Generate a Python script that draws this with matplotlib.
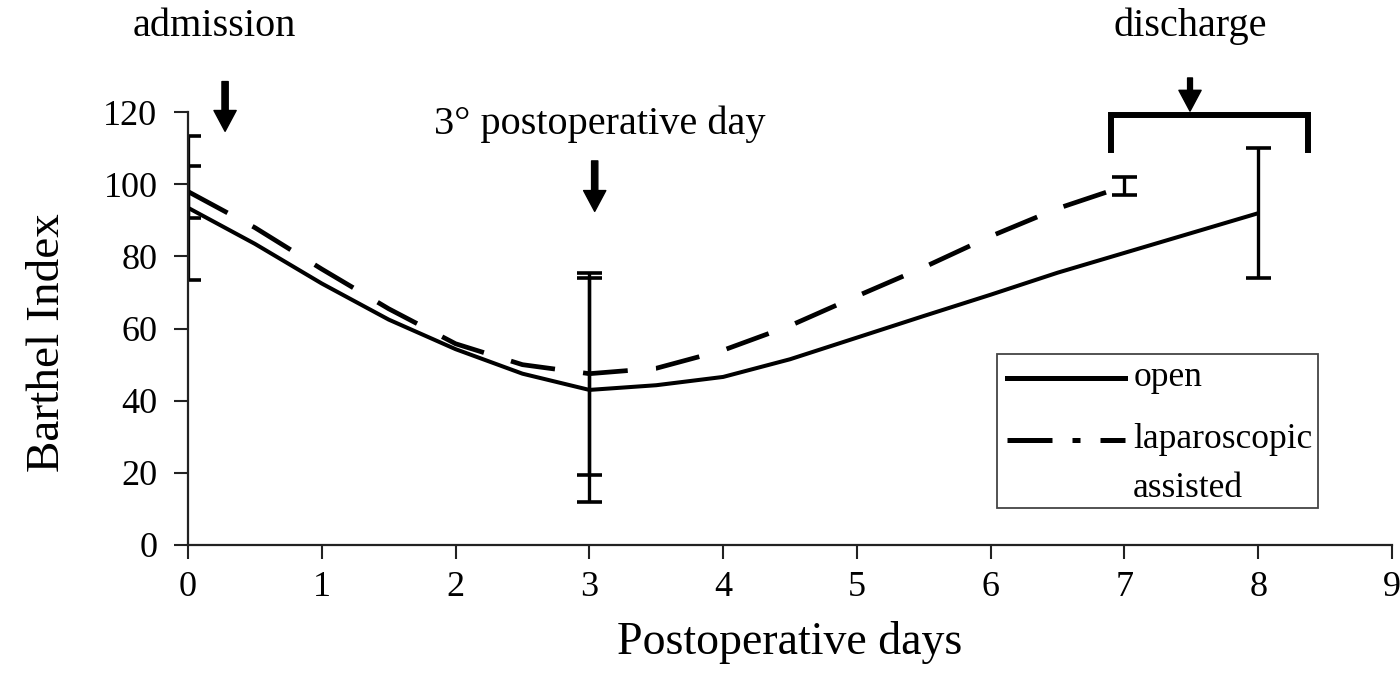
import matplotlib
matplotlib.use("Agg")
import matplotlib.pyplot as plt
from matplotlib.lines import Line2D
from matplotlib.patches import Rectangle

plt.rcParams['font.family'] = ['Liberation Serif', 'DejaVu Serif']

# Mean Barthel Index
days = [0, 0.5, 1, 1.5, 2, 2.5, 3, 3.5, 4, 4.5, 5, 5.5, 6, 6.5, 7, 7.5, 8]
open_mean = [93.5, 83.5, 72.5, 62.5, 54.3, 47.5, 43, 44.3, 46.6, 51.5, 57.5, 63.5, 69.4, 75.5, 81, 86.5, 92]

lap_days = [0, 0.5, 1, 1.5, 2, 2.5, 3, 3.5, 4, 4.5, 5, 5.5, 6, 6.5, 7]
lap_mean = [98, 88, 76.5, 65.5, 55.8, 50.0, 47.5, 49, 54, 60.8, 69, 77, 85.6, 93.3, 99.5]

# Error bars (mean +/- SD) at the measurement days
open_err_days = [0, 3, 8]
open_err_mean = [93.5, 43, 92]
open_err_sd = [20, 31, 18]

lap_err_days = [0, 3, 7]
lap_err_mean = [98, 47.5, 99.5]
lap_err_sd = [7.2, 28, 2.5]

x_ticks = [0, 1, 2, 3, 4, 5, 6, 7, 8, 9]
y_ticks = [0, 20, 40, 60, 80, 100, 120]

fig = plt.figure(figsize=(14, 6.76), dpi=100)
ax = fig.add_axes([0.1343, 0.1938, 0.8600, 0.6402])

ax.plot(days, open_mean, color='black', lw=2.9, solid_capstyle='butt',
        solid_joinstyle='round')
ax.plot(lap_days, lap_mean, color='black', lw=3.4, dashes=(9.5, 6.0))

ax.errorbar(open_err_days, open_err_mean, yerr=open_err_sd, fmt='none',
            ecolor='black', elinewidth=2.4, capsize=9, capthick=2.6)
ax.errorbar(lap_err_days, lap_err_mean, yerr=lap_err_sd, fmt='none',
            ecolor='black', elinewidth=2.4, capsize=9, capthick=2.6)

ax.set_xlim(0, 9)
ax.set_ylim(0, 120)
ax.set_xticks(x_ticks)
ax.set_yticks(y_ticks)
ax.tick_params(axis='both', direction='out', length=10, width=1.5,
               labelsize=26, color='#222222')
ax.tick_params(axis='y', pad=12)
ax.tick_params(axis='x', pad=9)
for side in ('top', 'right'):
    ax.spines[side].set_visible(False)
for side in ('left', 'bottom'):
    ax.spines[side].set_linewidth(1.6)
    ax.spines[side].set_color('#222222')

ax.set_xlabel('Postoperative days', fontsize=33, labelpad=12)
ax.set_ylabel('Barthel Index', fontsize=34)
ax.yaxis.set_label_coords(-0.099, 0.468)

# Event markers above the curves
arrow = dict(facecolor='black', edgecolor='black', width=4.5, headwidth=16,
             headlength=15)
ax.text(0.2, 143.8, 'admission', fontsize=29, ha='center', va='center',
        clip_on=False)
ax.annotate('', xy=(0.277, 114.7), xytext=(0.277, 128.5), arrowprops=arrow,
            annotation_clip=False)

ax.text(3.08, 116.6, '3° postoperative day', fontsize=29, ha='center',
        va='center', clip_on=False)
ax.annotate('', xy=(3.04, 92.5), xytext=(3.04, 106.5), arrowprops=arrow,
            annotation_clip=False)

ax.text(7.49, 143.8, 'discharge', fontsize=29, ha='center', va='center',
        clip_on=False)
ax.annotate('', xy=(7.49, 120.3), xytext=(7.49, 129.5),
            arrowprops=dict(arrow, width=3.5), annotation_clip=False)
ax.plot([6.9, 6.9, 8.37, 8.37], [109.4, 119.2, 119.2, 109.4], color='black',
        lw=4.3, solid_joinstyle='miter', clip_on=False)

# Legend box
ax.add_patch(Rectangle((0.672, 0.0856), 0.2665, 0.3564, transform=ax.transAxes,
                       facecolor='white', edgecolor='#444444', lw=1.3,
                       zorder=5))
ax.add_line(Line2D([0.680, 0.778], [0.3866, 0.3866], transform=ax.transAxes,
                   color='black', lw=3.6, zorder=6))
ax.add_line(Line2D([0.6805, 0.778], [0.243, 0.243], transform=ax.transAxes,
                   color='black', lw=3.6, dashes=(9.0, 4.0, 1.6, 4.0),
                   zorder=6))
ax.text(0.785, 0.3866, 'open', transform=ax.transAxes, fontsize=25.5,
        ha='left', va='center', zorder=7)
ax.text(0.785, 0.243, 'laparoscopic', transform=ax.transAxes, fontsize=25.5,
        ha='left', va='center', zorder=7)
ax.text(0.785, 0.130, 'assisted', transform=ax.transAxes, fontsize=25.5,
        ha='left', va='center', zorder=7)

fig.savefig('out.png', dpi=100)
